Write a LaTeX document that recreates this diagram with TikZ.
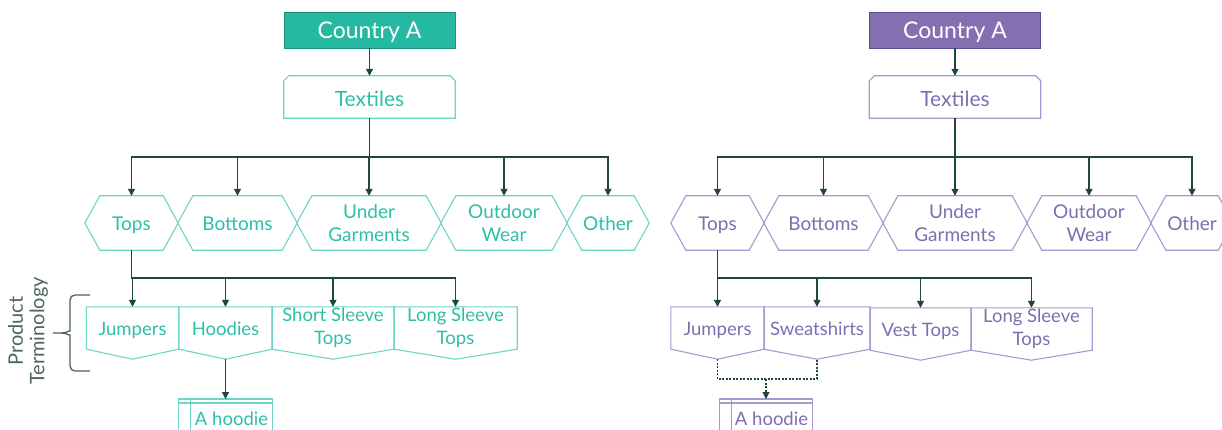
\documentclass[tikz,border=0pt]{standalone}
\usepackage{fontspec}
\setmainfont{Lato}
\usetikzlibrary{arrows.meta}
\definecolor{tealfill}{HTML}{24B9A0}
\definecolor{tealdark}{HTML}{1C8F7C}
\definecolor{tealline}{HTML}{6DD5C3}
\definecolor{tealtext}{HTML}{2DBFA5}
\definecolor{purfill}{HTML}{8470B1}
\definecolor{purdark}{HTML}{5F4D91}
\definecolor{purline}{HTML}{A898CF}
\definecolor{purtext}{HTML}{7F6DAF}
\definecolor{conncol}{HTML}{1E4740}
\definecolor{bracecol}{HTML}{45625C}
\newcommand\hexo[2]{%
  \draw[#2, line width=1.1pt] (#1.west) -- ([xshift=15pt]#1.north west) -- ([xshift=-15pt]#1.north east) -- (#1.east) -- ([xshift=-15pt]#1.south east) -- ([xshift=15pt]#1.south west) -- cycle;}
\newcommand\prodo[2]{%
  \draw[#2, line width=1.1pt] (#1.north west) -- (#1.north east) -- (#1.south east) -- ([yshift=-10pt]#1.south) -- (#1.south west) -- cycle;
  \coordinate (#1p) at ([yshift=-10pt]#1.south);}
\newcommand\chamo[2]{%
  \draw[#2, line width=1.2pt] (#1.south west) -- ([yshift=-5pt]#1.north west) -- ([xshift=5pt]#1.north west) -- ([xshift=-5pt]#1.north east) -- ([yshift=-5pt]#1.north east) -- (#1.south east) -- cycle;}
\newcommand\hoodo[2]{%
  \draw[#2, line width=1.1pt] ([yshift=-40pt]#1.north west) -- (#1.north west) -- (#1.north east) -- ([yshift=-40pt]#1.north east);
  \draw[#2, line width=1.1pt] ([yshift=-4pt]#1.north west) -- ([yshift=-4pt]#1.north east);
  \draw[#2, line width=1.1pt] ([xshift=12pt]#1.north west) -- ([xshift=12pt,yshift=-40pt]#1.north west);}
\tikzset{
  arr/.style={draw=conncol, line width=1.2pt, -{Triangle[length=7pt,width=7pt]}},
  dashline/.style={draw=conncol, line width=1.1pt, dash pattern=on 2pt off 1.5pt},
  single/.style={text height=15pt, text depth=1pt},
  topbox/.style={minimum width=171, minimum height=36, inner sep=0, text=white, text height=18pt, text depth=0pt, font=\fontsize{23}{26}\selectfont},
  txbox/.style={minimum width=171, minimum height=42, inner sep=0, text height=20pt, text depth=0pt, font=\fontsize{21}{24}\selectfont},
  hexbox/.style={minimum height=54, inner sep=0, align=center, font=\fontsize{19}{22.5}\selectfont},
  prodbox/.style={minimum height=42, inner sep=0, align=center, font=\fontsize{18.5}{22.5}\selectfont},
  hoodbox/.style={minimum width=93, minimum height=40, inner sep=0, anchor=north, text height=13pt, text depth=0pt, font=\fontsize{18.5}{20}\selectfont},
}
\begin{document}
\begin{tikzpicture}[x=1pt,y=-1pt]
\useasboundingbox (0,0) rectangle (1222,430);
\clip (0,0) rectangle (1222,430);
% ---------------- Left (teal) ----------------
\node[topbox, fill=tealfill, draw=tealdark, line width=0.8pt] (LC) at (369.5,30) {Country A};
\node[txbox, text=tealtext] (LT) at (369.5,97) {Textiles};
\chamo{LT}{tealline}
\node[hexbox, single, text=tealtext, minimum width=93] (Ltop) at (131.5,223) {Tops};
\node[hexbox, single, text=tealtext, minimum width=119] (Lbot) at (237.5,223) {Bottoms};
\node[hexbox, text=tealtext, minimum width=144] (Lund) at (369,223) {Under\\Garments};
\node[hexbox, text=tealtext, minimum width=126] (Lout) at (504,223) {Outdoor\\Wear};
\node[hexbox, single, text=tealtext, minimum width=82] (Loth) at (608,223) {Other};
\foreach \n in {Ltop,Lbot,Lund,Lout,Loth} {\hexo{\n}{tealline}}
\node[prodbox, single, text=tealtext, minimum width=92] (LJu) at (132.5,328) {Jumpers};
\node[prodbox, single, text=tealtext, minimum width=93] (LHo) at (225.5,328) {Hoodies};
\node[prodbox, text=tealtext, minimum width=122] (LSh) at (333,328) {Short Sleeve\\Tops};
\node[prodbox, text=tealtext, minimum width=123] (LLo) at (455.5,328) {Long Sleeve\\Tops};
\foreach \n in {LJu,LHo,LSh,LLo} {\prodo{\n}{tealline}}
\node[hoodbox, text=tealtext] (LAh) at (225.5,399) {\hspace*{12pt}A hoodie};
\hoodo{LAh}{tealline}
\draw[arr] (LC) -- (LT);
\foreach \n in {Ltop,Lbot,Lund,Lout,Loth} {\draw[arr] (LT.south) -- (LT.south |- 0,157) -| (\n.north);}
\foreach \n in {LJu,LHo,LSh,LLo} {\draw[arr] (Ltop.south) -- (Ltop.south |- 0,278) -| (\n.north);}
\draw[arr] (LHop) -- (LAh.north);
% brace + label
\draw[bracecol, line width=1.3pt, rounded corners=5pt] (90,295) -- (70,295) -- (70,326) [sharp corners] to[out=-90,in=0] (62,333) -- (53,333);
\draw[bracecol, line width=1.3pt, rounded corners=5pt] (90,371) -- (70,371) -- (70,340) [sharp corners] to[out=90,in=0] (62,333);
\node[rotate=90, align=center, text=bracecol!85!gray, font=\fontsize{20}{21.5}\selectfont] (PT) at (28,331) {Product\\Terminology};
% ---------------- Right (purple) ----------------
\node[topbox, fill=purfill, draw=purdark, line width=0.8pt] (RC) at (955,30) {Country A};
\node[txbox, text=purtext] (RT) at (955,97) {Textiles};
\chamo{RT}{purline}
\node[hexbox, single, text=purtext, minimum width=93] (Rtop) at (717.5,223) {Tops};
\node[hexbox, single, text=purtext, minimum width=119] (Rbot) at (823.5,223) {Bottoms};
\node[hexbox, text=purtext, minimum width=144] (Rund) at (955,223) {Under\\Garments};
\node[hexbox, text=purtext, minimum width=124] (Rout) at (1089,223) {Outdoor\\Wear};
\node[hexbox, single, text=purtext, minimum width=82] (Roth) at (1192,223) {Other};
\foreach \n in {Rtop,Rbot,Rund,Rout,Roth} {\hexo{\n}{purline}}
\node[prodbox, single, text=purtext, minimum width=93] (RJu) at (717.5,328) {Jumpers};
\node[prodbox, single, text=purtext, minimum width=106] (RSw) at (817,328) {Sweatshirts};
\node[prodbox, single, text=purtext, minimum width=101] (RVe) at (920.5,329) {Vest Tops};
\node[prodbox, text=purtext, minimum width=121] (RLo) at (1031.5,329) {Long Sleeve\\Tops};
\foreach \n in {RJu,RSw,RVe,RLo} {\prodo{\n}{purline}}
\node[hoodbox, text=purtext] (RAh) at (766,399) {\hspace*{11pt}A hoodie};
\hoodo{RAh}{purline}
\draw[arr] (RC) -- (RT);
\foreach \n in {Rtop,Rbot,Rund,Rout,Roth} {\draw[arr] (RT.south) -- (RT.south |- 0,157) -| (\n.north);}
\foreach \n in {RJu,RSw,RVe,RLo} {\draw[arr] (Rtop.south) -- (Rtop.south |- 0,278) -| (\n.north);}
\draw[dashline] (RJup) -- (RJup |- 0,379) -- (RSwp |- 0,379) -- (RSwp);
\draw[arr, dashline] (RAh.north |- 0,379) -- (RAh.north);
\end{tikzpicture}
\end{document}
